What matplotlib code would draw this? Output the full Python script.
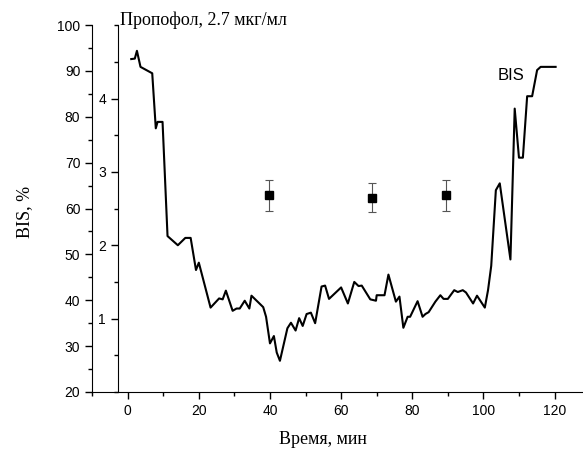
import numpy as np
import matplotlib
matplotlib.use('Agg')
import matplotlib.pyplot as plt
from matplotlib.ticker import MultipleLocator

# BIS curve
t = [1.0, 2.0, 2.6, 3.6, 6.9, 7.9, 8.4, 9.8, 11.2, 14.1, 16.2, 17.7, 19.2, 20.0,
     23.3, 25.7, 26.7, 27.6, 29.5, 30.6, 31.5, 32.9, 34.2, 34.8, 38.1, 38.9, 40.0,
     41.1, 41.9, 42.8, 44.9, 45.9, 47.2, 48.2, 49.2, 50.3, 51.5, 52.7, 54.5, 55.5,
     56.6, 60.0, 61.9, 63.7, 64.9, 65.8, 68.2, 69.8, 70.0, 72.2, 73.3, 75.4, 76.4,
     77.5, 78.7, 79.4, 81.5, 82.9, 83.7, 84.6, 86.5, 87.9, 88.8, 90.0, 91.8, 92.8,
     94.2, 95.1, 97.1, 98.2, 100.4, 101.3, 102.2, 103.5, 104.6, 107.6, 108.8, 110.0,
     111.1, 112.3, 113.7, 115.1, 116.1, 120.3]
bis = [92.6, 92.7, 94.4, 90.9, 89.5, 77.5, 78.9, 78.9, 54.0, 52.0, 53.6, 53.6, 46.6, 48.2,
       38.4, 40.4, 40.2, 42.1, 37.7, 38.2, 38.2, 39.9, 38.2, 41.0, 38.5, 36.4, 30.6,
       32.2, 28.6, 26.8, 33.9, 35.1, 33.4, 36.1, 34.4, 37.0, 37.3, 35.0, 43.0, 43.2,
       40.3, 42.8, 39.3, 44.0, 43.1, 43.2, 40.2, 39.9, 41.1, 41.1, 45.6, 39.7, 40.8,
       34.0, 36.4, 36.4, 39.8, 36.4, 37.0, 37.4, 39.7, 41.1, 40.3, 40.3, 42.2, 41.8,
       42.2, 41.7, 39.3, 41.0, 38.4, 42.2, 47.5, 64.0, 65.5, 48.9, 81.8, 71.1,
       71.1, 84.5, 84.5, 90.2, 90.9, 90.9]

# propofol concentration points
t_conc = [39.8, 68.7, 89.4]
conc = [2.68, 2.65, 2.68]
conc_err = [0.21, 0.20, 0.21]

fig = plt.figure(figsize=(5.83, 4.49), dpi=100)
ax = fig.add_axes([0.158, 0.127, 0.842, 0.817])

ax.plot(t, bis, color='black', lw=1.5)
ax.set_xlim(-10, 128)
ax.set_ylim(20, 100)
ax.xaxis.set_major_locator(MultipleLocator(20))
ax.xaxis.set_minor_locator(MultipleLocator(10))
ax.yaxis.set_major_locator(MultipleLocator(10))
ax.yaxis.set_minor_locator(MultipleLocator(5))
ax.spines['top'].set_visible(False)
ax.spines['right'].set_visible(False)
ax.tick_params(which='major', direction='out', length=5, width=1, labelsize=10)
ax.tick_params(which='minor', direction='out', length=3, width=1)
for lab in ax.get_xticklabels() + ax.get_yticklabels():
    lab.set_family('Liberation Sans')

ax2 = ax.twinx()
ax2.set_ylim(0, 5)
ax2.spines['right'].set_visible(False)
ax2.spines['top'].set_visible(False)
ax2.spines['bottom'].set_visible(False)
ax2.spines['left'].set_visible(True)
ax2.spines['left'].set_position(('data', -2.8))
ax2.yaxis.set_ticks_position('left')
ax2.yaxis.set_major_locator(MultipleLocator(1))
ax2.yaxis.set_minor_locator(MultipleLocator(0.5))
ax2.set_yticks([1, 2, 3, 4])
ax2.tick_params(which='major', direction='out', length=5, width=1, labelsize=10)
ax2.tick_params(which='minor', direction='out', length=3, width=1)
for lab in ax2.get_yticklabels():
    lab.set_family('Liberation Sans')

ax2.errorbar(t_conc, conc, yerr=conc_err, fmt='s', color='black', ms=6,
             ecolor='#555555', elinewidth=0.8, capsize=3, capthick=0.8)

ax.set_ylabel('BIS, %', family='Liberation Serif', fontsize=13, labelpad=2)
ax.yaxis.set_label_coords(-0.12, 0.49)
ax.set_xlabel('Время, мин', family='Liberation Serif', fontsize=13)
ax.xaxis.set_label_coords(0.47, -0.106)
fig.text(120 / 583, 1 - 25 / 449, 'Пропофол, 2.7 мкг/мл', family='Liberation Serif',
         fontsize=13, ha='left', va='baseline')
ax.text(104, 89, 'BIS', family='Liberation Sans', fontsize=12, ha='left', va='center')

fig.savefig('out.png', dpi=100)
